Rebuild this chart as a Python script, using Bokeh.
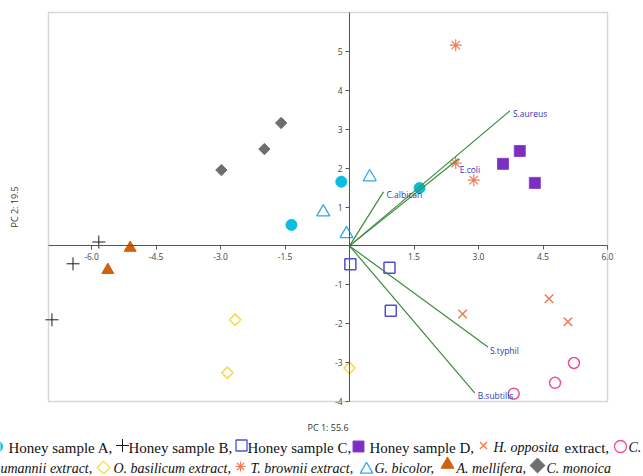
import math
from bokeh.plotting import figure
from bokeh.models import (LinearAxis, FixedTicker, PrintfTickFormatter, Range1d,
                          BoxAnnotation)
from bokeh.core.properties import value
from bokeh.embed import file_html
from bokeh.resources import INLINE

# ---------------- data (PC1, PC2 scores) ----------------
honey_a_x = [-1.35, -0.19, 1.63]
honey_a_y = [0.54, 1.65, 1.49]
honey_b_x = [-5.83, -6.43, -6.92]
honey_b_y = [0.10, -0.46, -1.90]
honey_c_x = [0.02, 0.93, 0.96]
honey_c_y = [-0.47, -0.56, -1.67]
honey_d_x = [3.57, 3.96, 4.31]
honey_d_y = [2.11, 2.44, 1.62]
h_opposita_x = [2.63, 4.64, 5.08]
h_opposita_y = [-1.75, -1.36, -1.95]
c_neumannii_x = [5.22, 4.78, 3.82]
c_neumannii_y = [-3.01, -3.52, -3.80]
o_basilicum_x = [-2.66, -2.84, 0.00]
o_basilicum_y = [-1.90, -3.26, -3.14]
t_brownii_x = [2.47, 2.47, 2.89]
t_brownii_y = [5.16, 2.13, 1.69]
g_bicolor_x = [-0.61, 0.47, -0.07]
g_bicolor_y = [0.87, 1.77, 0.31]
a_mellifera_x = [-5.10, -5.62]
a_mellifera_y = [-0.05, -0.62]
c_monoica_x = [-1.59, -1.98, -2.98]
c_monoica_y = [3.16, 2.49, 1.95]

loading_names = ["S.aureus", "E.coli", "C.albican", "S.typhil", "B.subtilis"]
loading_x = [3.73, 2.54, 0.79, 3.22, 2.91]
loading_y = [3.47, 2.24, 1.39, -2.60, -3.78]

x_ticks = [-6.0, -4.5, -3.0, -1.5, 1.5, 3.0, 4.5, 6.0]
y_ticks = [-4, -3, -2, -1, 1, 2, 3, 4, 5]
x_title = "PC 1: 55.6"
y_title = "PC 2: 19.5"
X_MIN, X_MAX = -7.0, 6.0
Y_MIN, Y_MAX = -4.0, 6.0

# ---------------- layout (canvas pixels) ----------------
W, H = 643, 476
BOX_L, BOX_R, BOX_T, BOX_B = 48, 607, 12, 401
kx = (BOX_R - BOX_L) / (X_MAX - X_MIN)
ky = (BOX_B - BOX_T) / (Y_MAX - Y_MIN)

# ---------------- styles ----------------
D45 = math.pi / 4
styles = {
    "A":  dict(marker="circle", fill_color="#0CBDE0", line_color="#0CBDE0", size=11, line_width=1),
    "B":  dict(marker="cross", fill_color=None, line_color="#1a1a1a", size=13, line_width=1),
    "C":  dict(marker="square", fill_color=None, line_color="#4E4ED8", size=11, line_width=1.5),
    "D":  dict(marker="square", fill_color="#7A2EC2", line_color="#8A44CC", size=11, line_width=1),
    "H":  dict(marker="x", fill_color=None, line_color="#F07A52", size=12, line_width=1.5),
    "CN": dict(marker="circle", fill_color=None, line_color="#EE4E9C", size=11, line_width=1.5),
    "O":  dict(marker="square", fill_color=None, line_color="#F6D84A", size=8, line_width=1.5, angle=D45),
    "T":  dict(marker="asterisk", fill_color=None, line_color="#F27A5A", size=12, line_width=1.2),
    "G":  dict(marker="triangle", fill_color=None, line_color="#35A8E8", size=13, line_width=1.3),
    "AM": dict(marker="triangle", fill_color="#D0620F", line_color="#D0620F", size=12, line_width=1),
    "CM": dict(marker="square", fill_color="#6E6E6E", line_color="#6E6E6E", size=8, line_width=1, angle=D45),
}
series = [
    ("A", honey_a_x, honey_a_y), ("B", honey_b_x, honey_b_y),
    ("C", honey_c_x, honey_c_y), ("D", honey_d_x, honey_d_y),
    ("H", h_opposita_x, h_opposita_y), ("CN", c_neumannii_x, c_neumannii_y),
    ("O", o_basilicum_x, o_basilicum_y), ("T", t_brownii_x, t_brownii_y),
    ("G", g_bicolor_x, g_bicolor_y), ("AM", a_mellifera_x, a_mellifera_y),
    ("CM", c_monoica_x, c_monoica_y),
]

# ---------------- figure: frame = whole canvas ----------------
p = figure(width=W, height=H,
           x_range=Range1d(X_MIN - BOX_L / kx, X_MAX + (W - BOX_R) / kx),
           y_range=Range1d(Y_MIN - (H - BOX_B) / ky, Y_MAX + BOX_T / ky),
           output_backend="svg", toolbar_location=None,
           x_axis_location=None, y_axis_location=None, min_border=0)
p.extra_x_ranges = {"px": Range1d(0, W)}
p.extra_y_ranges = {"px": Range1d(H, 0)}
p.xgrid.visible = False
p.ygrid.visible = False
p.outline_line_color = None
p.background_fill_color = "white"
p.border_fill_color = "white"

p.add_layout(BoxAnnotation(left=X_MIN, right=X_MAX, bottom=Y_MIN, top=Y_MAX,
                           fill_color=None, line_color="#7a7a7a", line_width=1.5))

def style_axis(ax):
    ax.axis_line_color = "#555555"
    ax.axis_line_width = 1
    ax.major_tick_line_color = "#555555"
    ax.major_tick_out = 4
    ax.major_tick_in = 0
    ax.minor_tick_line_color = None
    ax.major_label_text_font = "Open Sans"
    ax.major_label_text_font_size = "8.5px"
    ax.major_label_text_color = "#444444"
    ax.major_label_standoff = 3

xax = LinearAxis(fixed_location=0, ticker=FixedTicker(ticks=x_ticks),
                 formatter=PrintfTickFormatter(format="%.1f"), bounds=(X_MIN, X_MAX))
style_axis(xax)
p.add_layout(xax, "below")
yax = LinearAxis(fixed_location=0, ticker=FixedTicker(ticks=y_ticks),
                 formatter=PrintfTickFormatter(format="%d"), bounds=(Y_MIN, Y_MAX))
style_axis(yax)
p.add_layout(yax, "left")

# axis titles
p.text(x=[(BOX_L + BOX_R) / 2], y=[427], text=[x_title], x_range_name="px", y_range_name="px",
       text_font=value("Open Sans"), text_font_size="9px", text_color="#333333",
       text_align="center", text_baseline="middle")
p.text(x=[14], y=[(BOX_T + BOX_B) / 2], text=[y_title], x_range_name="px", y_range_name="px",
       angle=math.pi / 2, text_font=value("Open Sans"), text_font_size="9px",
       text_color="#333333", text_align="center", text_baseline="middle")

for key, xs, ys in series:
    p.scatter(xs, ys, **styles[key])

p.segment(x0=[0] * len(loading_x), y0=[0] * len(loading_y), x1=loading_x, y1=loading_y,
          line_color="#3C8C3C", line_width=1.2)
label_dx = [3, 1, 3, 2, 3]
label_dy = [3, 11, 3, 3, 3]
p.text(x=loading_x, y=loading_y, text=loading_names, x_offset=label_dx, y_offset=label_dy,
       text_font=value("Open Sans"), text_font_size="8.5px", text_color="#3535B5",
       text_align="left", text_baseline="middle")

# ---------------- legend (two text lines under the plot, canvas px) ----------------
L1, L2 = 447, 468
# (style key, x, y, size)
legend_markers = [("A", -4, 446, 12), ("B", 122, 445, 13), ("C", 241, 445, 11),
                  ("D", 358, 446, 11), ("H", 483, 445, 10), ("CN", 620, 446, 12),
                  ("O", 103, 467, 9), ("T", 240, 466, 10), ("G", 366, 469, 12.5),
                  ("AM", 447, 464, 13), ("CM", 537, 465, 10.5)]
for key, mx, my, ms in legend_markers:
    st = dict(styles[key])
    st["size"] = ms
    if key in ("C", "H", "CN", "O", "G"):
        st["line_width"] = 1.3
    p.scatter([mx], [my], x_range_name="px", y_range_name="px", **st)

upright_text = ["Honey sample A,", "Honey sample B,", "Honey sample C,", "Honey sample D,", "extract,"]
upright_x = [8, 128, 247, 369, 564]
upright_y = [L1, L1, L1, L1, L1]
italic_text = ["H. opposita", "C.", "umannii extract,", "O. basilicum extract,",
               "T. brownii extract,", "G. bicolor,", "A. mellifera,", "C. monoica"]
italic_x = [493, 628, 0, 113, 250, 374, 456, 546]
italic_y = [L1, L1, L2, L2, L2, L2, L2, L2]

p.text(x=upright_x, y=upright_y, text=upright_text, x_range_name="px", y_range_name="px",
       text_font=value("Liberation Serif"), text_font_size="15px", text_color="#111111",
       text_baseline="middle", text_align="left")
p.text(x=italic_x, y=italic_y, text=italic_text, x_range_name="px", y_range_name="px",
       text_font=value("Liberation Serif"), text_font_size="14px", text_font_style="italic",
       text_color="#111111", text_baseline="middle", text_align="left")

open("out.html", "w").write(file_html(p, INLINE))
